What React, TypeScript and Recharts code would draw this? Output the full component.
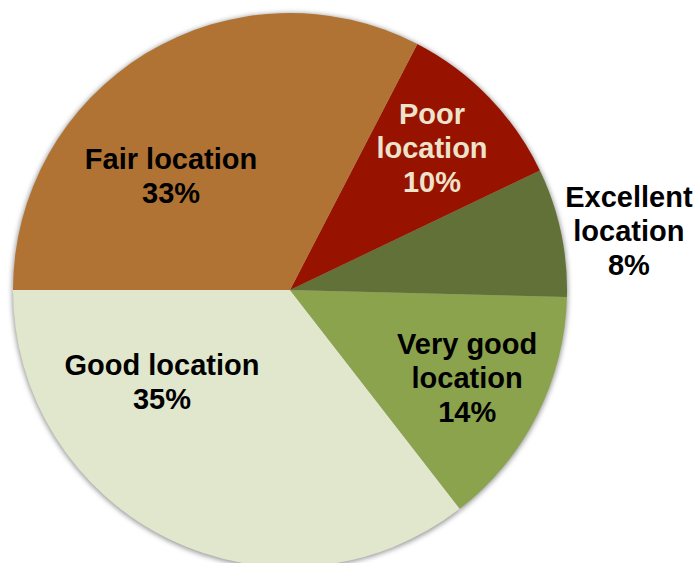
import React from "react";
import { PieChart, Pie, Cell } from "recharts";

const categories = ["Good location", "Very good location", "Excellent location", "Poor location", "Fair location"];
const shares = [35.5, 14.1, 7.5, 10.3, 32.6];
const percentLabels = ["35%", "14%", "8%", "10%", "33%"];
const labelLines = [
  ["Good location", "35%"],
  ["Very good", "location", "14%"],
  ["Excellent", "location", "8%"],
  ["Poor", "location", "10%"],
  ["Fair location", "33%"],
];

const COLORS = ["#E0E7CD", "#8BA34D", "#627137", "#981200", "#B07333"];
const TEXT_COLORS = ["#000000", "#000000", "#000000", "#EDE3CB", "#000000"];
// label placement: angle (deg) and distance as ratio of outer radius
const LABEL_LAYOUT = [
  { angle: 215.7, ratio: 0.569 },
  { angle: 333.6, ratio: 0.714 },
  { angle: 9.9, ratio: 1.242 },
  { angle: 45, ratio: 0.725 },
  { angle: 136.2, ratio: 0.595 },
];

const data = categories.map((name, i) => ({ name, value: shares[i], pct: percentLabels[i] }));

const FONT = 29;
const LINE = 34;

const renderLabel = (props: any) => {
  const { cx, cy, outerRadius, index } = props;
  const lay = LABEL_LAYOUT[index];
  const rad = (lay.angle * Math.PI) / 180;
  const x = cx + outerRadius * lay.ratio * Math.cos(rad);
  const y = cy - outerRadius * lay.ratio * Math.sin(rad);
  const lines = labelLines[index];
  const n = lines.length;
  const firstBaseline = y + 10 - ((n - 1) * LINE) / 2;
  return (
    <text
      key={"lbl" + index}
      x={x}
      y={firstBaseline}
      textAnchor="middle"
      fill={TEXT_COLORS[index]}
      style={{ fontFamily: "'Liberation Sans', Arial, sans-serif", fontWeight: 700, fontSize: FONT }}
    >
      {lines.map((l, k) => (
        <tspan key={k} x={x} y={firstBaseline + k * LINE}>
          {l}
        </tspan>
      ))}
    </text>
  );
};

export default function App() {
  return (
    <div style={{ position: "absolute", left: 0, top: 0, width: 698, height: 563, background: "#fff" }}>
      <PieChart width={698} height={563} margin={{ top: 0, right: 0, bottom: 0, left: 0 }}>
        <Pie
          data={data}
          dataKey="value"
          nameKey="name"
          cx={290}
          cy={291}
          outerRadius={278}
          startAngle={180}
          endAngle={540}
          stroke="none"
          isAnimationActive={false}
          label={false}
          labelLine={false}
        >
          {data.map((d) => (
            <Cell key={"s" + d.name} fill="#9a9a9a" style={{ filter: "blur(2.5px)" }} />
          ))}
        </Pie>
        <Pie
          data={data}
          dataKey="value"
          nameKey="name"
          cx={290}
          cy={290}
          outerRadius={277}
          startAngle={180}
          endAngle={540}
          stroke="none"
          isAnimationActive={false}
          label={renderLabel}
          labelLine={false}
        >
          {data.map((d, i) => (
            <Cell key={d.name} fill={COLORS[i]} />
          ))}
        </Pie>
      </PieChart>
    </div>
  );
}
